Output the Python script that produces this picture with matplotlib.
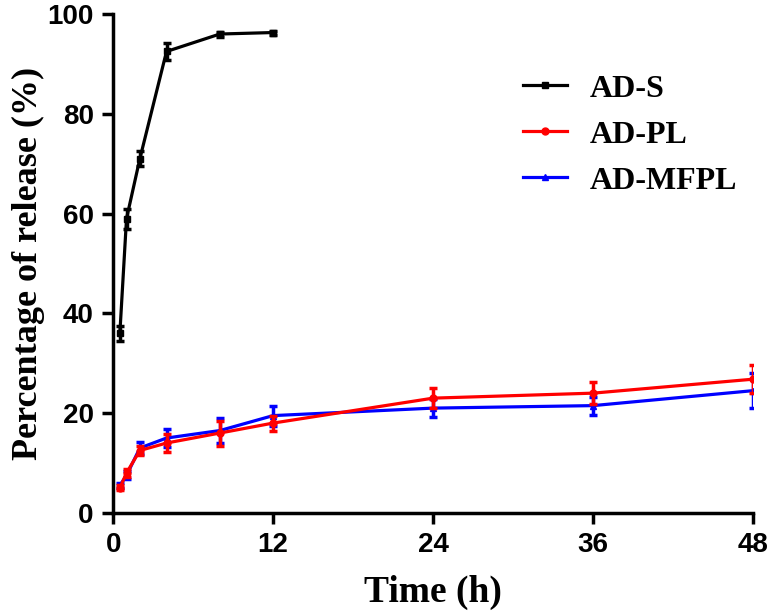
import matplotlib
matplotlib.use('Agg')
import matplotlib.pyplot as plt
from matplotlib.lines import Line2D

# release data
time_s = [0.5, 1, 2, 4, 8, 12]
ad_s = [36, 59, 71, 92.5, 96, 96.3]
ad_s_err = [1.5, 2, 1.5, 1.8, 0.5, 0.4]

time_pl = [0.5, 1, 2, 4, 8, 12, 24, 36, 48]
ad_pl = [5, 8, 12.5, 14, 16, 18, 23, 24, 26.8]
ad_pl_err = [0.5, 0.8, 1, 1.8, 2.5, 1.5, 2, 2.2, 2.8]

ad_mfpl = [5.5, 7.5, 13, 15, 16.5, 19.5, 21, 21.5, 24.5]
ad_mfpl_err = [0.5, 0.8, 1.2, 1.8, 2.5, 2, 1.8, 1.8, 3.5]

names = ['AD-S', 'AD-PL', 'AD-MFPL']
colors = ['black', '#ff0000', '#0000ff']
markers = ['s', 'o', '^']

serif = ['Liberation Serif', 'DejaVu Serif']
plt.rcParams['font.family'] = serif
plt.rcParams['font.weight'] = 'bold'

fig = plt.figure(figsize=(7.7, 6.12), dpi=100)
ax = fig.add_axes([0.147, 0.162, 0.831, 0.815])

kw = dict(ms=5, lw=2.3, elinewidth=2.5, capsize=3, capthick=2.5)
ax.errorbar(time_s, ad_s, yerr=ad_s_err, color=colors[0], marker=markers[0], **kw)
ax.errorbar(time_pl, ad_pl, yerr=ad_pl_err, color=colors[1], marker=markers[1], zorder=3, **kw)
ax.errorbar(time_pl, ad_mfpl, yerr=ad_mfpl_err, color=colors[2], marker=markers[2], zorder=2, **kw)

ax.set_xlim(0, 48)
ax.set_ylim(0, 100)
ax.set_xticks([0, 12, 24, 36, 48])
ax.set_yticks([0, 20, 40, 60, 80, 100])
ax.spines['top'].set_visible(False)
ax.spines['right'].set_visible(False)
ax.spines['left'].set_linewidth(2.5)
ax.spines['bottom'].set_linewidth(2.5)
ax.tick_params(width=2.5, length=8, labelsize=20, pad=6)
for lab in ax.get_xticklabels() + ax.get_yticklabels():
    lab.set_fontfamily('Liberation Sans')
    lab.set_fontweight('bold')

ax.set_xlabel('Time (h)', fontsize=27, fontweight='bold', labelpad=12)
ax.set_ylabel('Percentage of release (%)', fontsize=26, fontweight='bold', labelpad=2)

handles = [Line2D([], [], color=c, marker=m, ms=5, lw=2.3) for c, m in zip(colors, markers)]
ax.legend(handles, names, loc='upper left', bbox_to_anchor=(0.62, 0.905),
          frameon=False, fontsize=23, handlelength=1.4, handletextpad=0.7,
          labelspacing=0.52, borderaxespad=0)

fig.savefig('out.png', dpi=100)
